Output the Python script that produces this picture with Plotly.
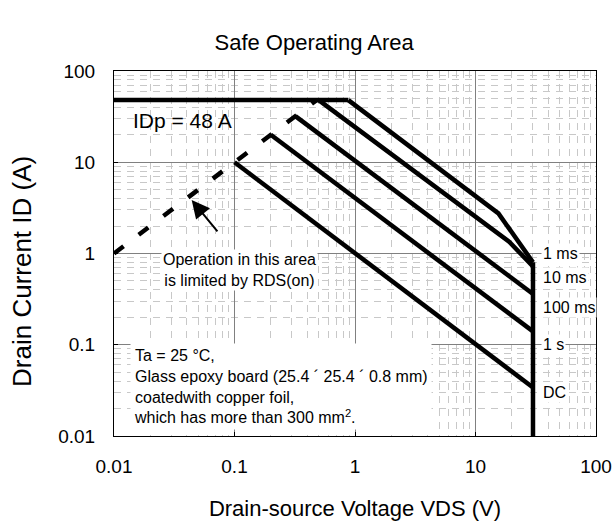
import plotly.graph_objects as go
import numpy as np

# ----------------------------------------------------
# Data
# ----------------------------------------------------
decades = [0.01, 0.1, 1, 10, 100]
decade_labels = ["0.01", "0.1", "1", "10", "100"]

# pulsed drain current limit IDp
idp_vds = [0.01, 0.88]
idp_id = [48, 48]

# RDS(on) limited region (dashed)
rds_vds = [0.01, 0.48]
rds_id = [1, 48]

pw_1ms_vds = [0.88, 15.5, 30]
pw_1ms_id = [48, 2.75, 0.8]

pw_10ms_vds = [0.5, 19, 30]
pw_10ms_id = [48, 1.35, 0.72]

pw_100ms_vds = [0.32, 30]
pw_100ms_id = [32, 0.36]

pw_1s_vds = [0.2, 30]
pw_1s_id = [20, 0.14]

dc_vds = [0.1, 30]
dc_id = [10, 0.034]

# VDSS limit
vdss_vds = [30, 30]
vdss_id = [0.01, 0.8]

curve_labels = ["1 ms", "10 ms", "100 ms", "1 s", "DC"]
curve_label_id = [1.0, 0.54, 0.253, 0.1, 0.0303]

FONT = "Liberation Sans, Arial, sans-serif"
LW = 4.5

fig = go.Figure()

solid = [
    (idp_vds, idp_id),
    (pw_1ms_vds, pw_1ms_id),
    (pw_10ms_vds, pw_10ms_id),
    (pw_100ms_vds, pw_100ms_id),
    (pw_1s_vds, pw_1s_id),
    (dc_vds, dc_id),
    (vdss_vds, vdss_id),
]
for vx, iy in solid:
    fig.add_trace(go.Scatter(
        x=vx, y=iy, mode="lines",
        line=dict(color="black", width=LW),
        showlegend=False, hoverinfo="skip",
    ))

fig.add_trace(go.Scatter(
    x=rds_vds, y=rds_id, mode="lines",
    line=dict(color="black", width=LW, dash="12px,19px"),
    showlegend=False, hoverinfo="skip",
))

# curve labels at the right of the VDSS line
for lab, iy in zip(curve_labels, curve_label_id):
    fig.add_annotation(
        x=np.log10(35), y=np.log10(iy), text=lab,
        showarrow=False, xanchor="left", yanchor="middle",
        bgcolor="white", borderpad=1,
        font=dict(family=FONT, size=16, color="black"),
    )

fig.add_annotation(
    x=np.log10(0.0138), y=np.log10(29), text="IDp = 48 A",
    showarrow=False, xanchor="left", yanchor="middle",
    font=dict(family=FONT, size=21, color="black"),
)

fig.add_annotation(
    x=np.log10(0.111), y=np.log10(0.66),
    text="Operation in this area<br>is limited by RDS(on)",
    showarrow=False, xanchor="center", yanchor="middle",
    bgcolor="white", borderpad=1,
    font=dict(family=FONT, size=16, color="black"),
)

# arrow pointing at the dashed line
fig.add_annotation(
    x=np.log10(0.0441), y=np.log10(3.86), text="",
    showarrow=True, ax=27, ay=33,
    arrowhead=2, arrowsize=1.8, arrowwidth=2, arrowcolor="black",
)

fig.add_annotation(
    x=np.log10(0.0136), y=np.log10(0.1045),
    text=("Ta = 25 °C,<br>"
          "Glass epoxy board (25.4 ´ 25.4 ´ 0.8 mm)<br>"
          "coatedwith copper foil,<br>"
          "which has more than 300 mm<sup>2</sup>."),
    showarrow=False, xanchor="left", yanchor="top", align="left",
    bgcolor="white", borderpad=3,
    font=dict(family=FONT, size=16, color="black"),
)

# y axis title (sits a little below the plot centre in the original)
fig.add_annotation(
    xref="paper", yref="paper", x=-0.191, y=0.452,
    text="Drain Current ID (A)", textangle=-90,
    showarrow=False, xanchor="center", yanchor="middle",
    font=dict(family=FONT, size=26, color="black"),
)

axis_common = dict(
    type="log",
    tickvals=decades,
    ticktext=decade_labels,
    showline=True, linecolor="black", linewidth=1, mirror=True,
    ticks="inside", ticklen=4, tickcolor="black",
    showgrid=True, gridcolor="#808080", gridwidth=1,
    minor=dict(dtick="D1", showgrid=True, gridcolor="#c8c8c8", gridwidth=1,
               griddash="7px,6px", ticks=""),
    zeroline=False,
    tickfont=dict(family=FONT, size=19, color="black"),
    automargin=False,
)

fig.update_xaxes(
    **axis_common,
    range=[-2, 2],
    ticklabelstandoff=13,
    title=dict(text="Drain-source Voltage VDS (V)", standoff=24,
               font=dict(family=FONT, size=22, color="black")),
)
fig.update_yaxes(
    **axis_common,
    range=[-2, 2],
    ticklabelstandoff=14,
)

fig.update_layout(
    width=616, height=521,
    margin=dict(l=114, r=20, t=71, b=85),
    paper_bgcolor="white", plot_bgcolor="white",
    title=dict(text="Safe Operating Area", x=0.51, xanchor="center",
               y=1 - 42 / 521, yanchor="middle",
               font=dict(family=FONT, size=22, color="black")),
)

fig.write_html("out.html", config={"displayModeBar": False},
               post_script="document.body.style.margin='0px';")
